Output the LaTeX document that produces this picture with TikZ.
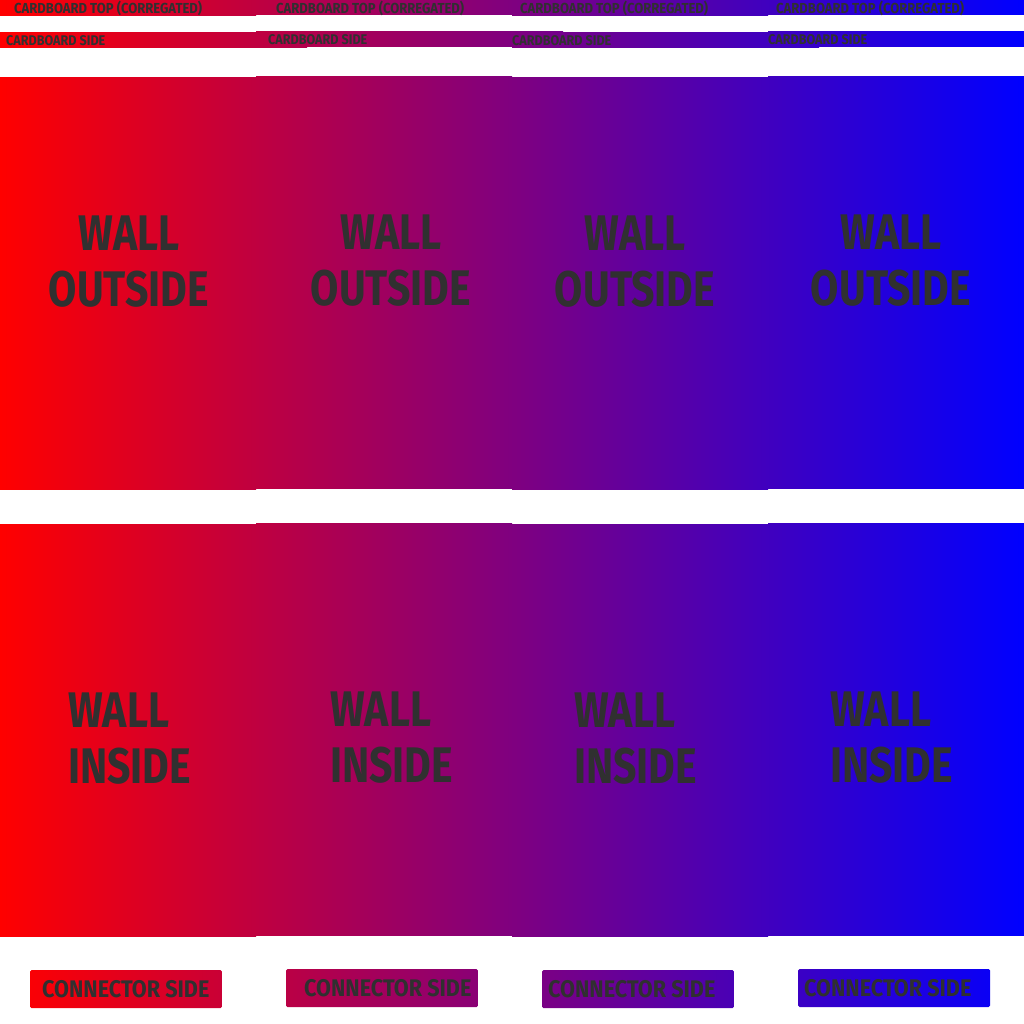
\documentclass[tikz,border=0pt]{standalone}
\usepackage{fontspec}
\newfontfamily\markerfont{Fira Sans}[FakeStretch=0.82]
\newfontfamily\markerwide{Fira Sans}[FakeStretch=0.9]
\usetikzlibrary{positioning}
\definecolor{inkgray}{HTML}{303030}
\tikzset{
  panel/.style 2 args={draw=none, left color=blue!#1!red, right color=blue!#2!red,
    inner sep=0pt, outer sep=0pt, anchor=north west},
  conbox/.style 2 args={panel={#1}{#2}, rounded corners=1.5pt, minimum width=192, minimum height=38},
  toplbl/.style={text=inkgray, inner sep=0pt, anchor=west, font=\markerwide\bfseries\fontsize{14.5}{16}\selectfont},
  sidelbl/.style={text=inkgray, inner sep=0pt, anchor=west, font=\markerwide\bfseries\fontsize{14}{16}\selectfont},
  walllbl/.style={text=inkgray, inner sep=0pt, font=\markerfont\bfseries\fontsize{50}{56}\selectfont},
  conlbl/.style={text=inkgray, inner sep=0pt, anchor=west, font=\markerwide\bfseries\fontsize{24}{26}\selectfont}
}
\begin{document}
\begin{tikzpicture}[x=1pt,y=-1pt]
\useasboundingbox (0,0) rectangle (1024,1024);
% one column of pieces per side of the box
\foreach \i/\s/\d in {0/0/1,1/6/0,2/-6/1,3/-6/0} {
  \pgfmathsetmacro\xo{256*\i}
  \pgfmathtruncatemacro\pa{25*\i}
  \pgfmathtruncatemacro\pb{\pa+25}
  \pgfmathtruncatemacro\pc{min(\pa+30,100)}
  \pgfmathsetmacro\ws{\i<3 ? 307 : 256}
  \pgfmathtruncatemacro\qa{(30+\xo)/10.24}
  \pgfmathtruncatemacro\qb{(222+\xo)/10.24}
  % strips
  \node[panel={\pa}{\pb}, minimum width=256, minimum height=15+\d] (top\i) at (\xo,0) {};
  \node[panel={\pa}{\pc}, minimum width=\ws, minimum height=15] (side\i) at (\xo,32+\d) {};
  % walls
  \node[panel={\pa}{\pb}, minimum width=256, minimum height=411] (outer\i) at (\xo,77+\d) {};
  \node[panel={\pa}{\pb}, minimum width=256, minimum height=412] (inner\i) at (\xo,523+\d) {};
  \node[conbox={\qa}{\qb}] (con\i) at (\xo+30,969+\d) {};
  % labels
  \node[toplbl] (toptext\i) at (\xo+14+\s,8) {CARDBOARD TOP (CORREGATED)};
  \node[sidelbl] (sidetext\i) at (\xo+6+\s,40+\d) {CARDBOARD SIDE};
  \node[walllbl, align=center] (outtext\i) at (\xo+129+\s,261+\d) {WALL\\OUTSIDE};
  \node[walllbl, align=left, anchor=west] (intext\i) at (\xo+68+\s,738+\d) {WALL\\INSIDE};
  \node[conlbl, xshift=12+\s] (context\i) at (con\i.west) {CONNECTOR SIDE};
}
\end{tikzpicture}
\end{document}
